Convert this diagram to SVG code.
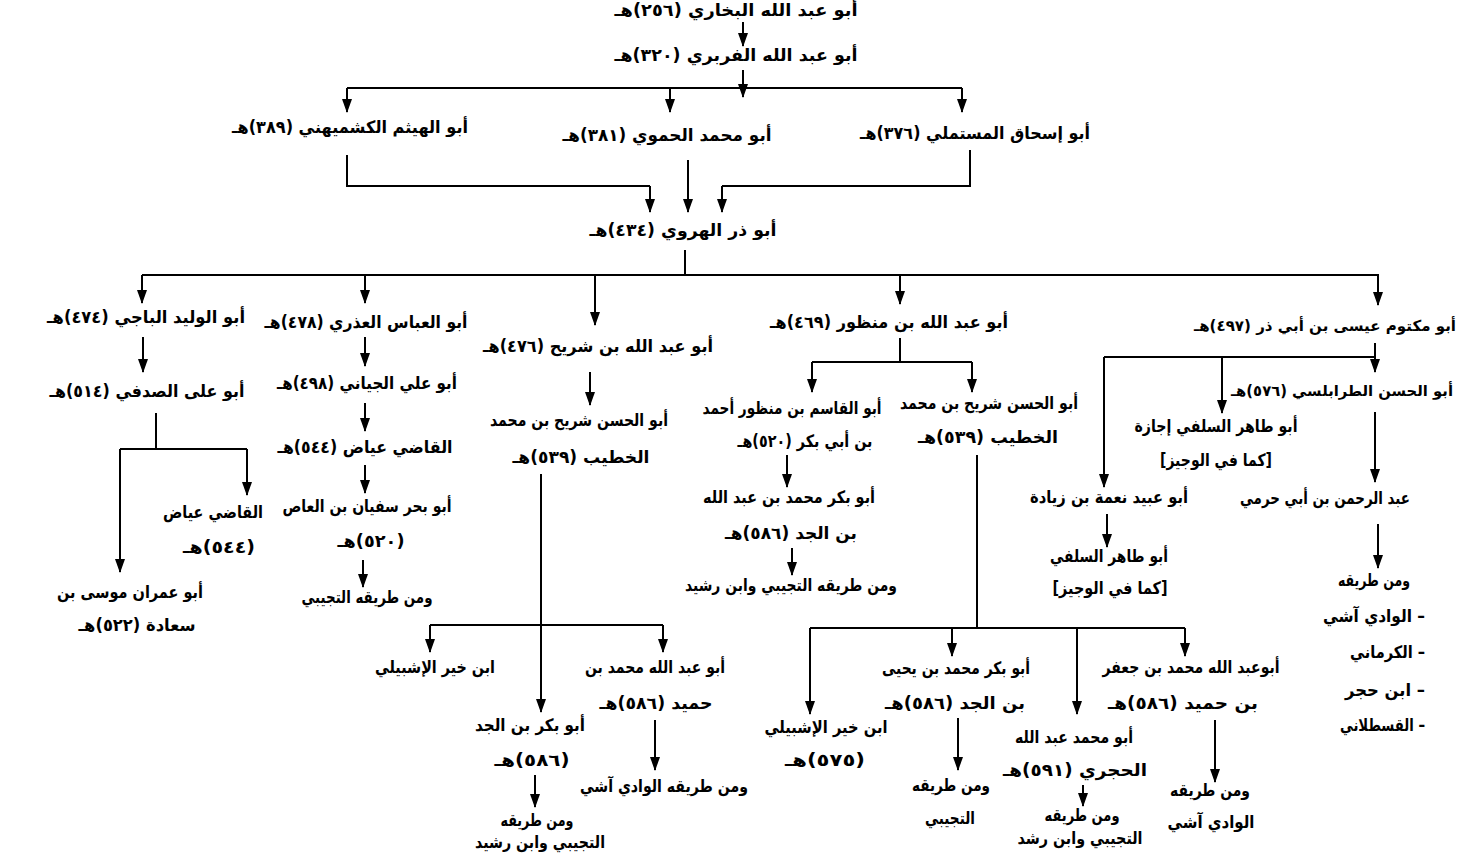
<svg xmlns="http://www.w3.org/2000/svg" width="1473" height="859" viewBox="0 0 1473 859">
<style>
.t{font-family:"DejaVu Sans",sans-serif;font-size:17px;font-weight:bold;fill:#000;direction:rtl;unicode-bidi:embed;text-anchor:middle}
.s{font-size:15px}
.r{text-anchor:start}
.c{stroke:#000;stroke-width:2;fill:none}
.a{marker-end:url(#ah)}
</style>
<defs>
<marker id="ah" markerUnits="userSpaceOnUse" markerWidth="14" markerHeight="10" refX="13" refY="5" orient="auto" viewBox="0 0 14 10">
<path d="M0,0 L14,5 L0,10 z" fill="#000"/>
</marker>
</defs>
<rect width="1473" height="859" fill="#fff"/>
<g id="connectors">
<line class="c a" x1="743" y1="22" x2="743" y2="46"/>
<line class="c a" x1="743" y1="70" x2="743" y2="97"/>
<line class="c" x1="347" y1="88" x2="962" y2="88"/>
<line class="c a" x1="347" y1="88" x2="347" y2="112"/>
<line class="c a" x1="670" y1="88" x2="670" y2="112"/>
<line class="c a" x1="962" y1="88" x2="962" y2="112"/>
<polyline class="c" points="347,155 347,186 650,186"/>
<line class="c a" x1="650" y1="186" x2="650" y2="212"/>
<line class="c a" x1="688" y1="160" x2="688" y2="212"/>
<polyline class="c" points="970,150 970,186 722,186"/>
<line class="c a" x1="722" y1="186" x2="722" y2="212"/>
<line class="c" x1="685" y1="250" x2="685" y2="275"/>
<line class="c" x1="142" y1="275" x2="1379" y2="275"/>
<line class="c a" x1="142" y1="275" x2="142" y2="303"/>
<line class="c a" x1="365" y1="275" x2="365" y2="303"/>
<line class="c a" x1="595" y1="275" x2="595" y2="325"/>
<line class="c a" x1="900" y1="275" x2="900" y2="304"/>
<line class="c a" x1="1378" y1="275" x2="1378" y2="305"/>
<line class="c a" x1="143" y1="337" x2="143" y2="372"/>
<line class="c" x1="156" y1="413" x2="156" y2="449"/>
<line class="c" x1="120" y1="449" x2="247" y2="449"/>
<line class="c a" x1="247" y1="449" x2="247" y2="495"/>
<line class="c a" x1="120" y1="449" x2="120" y2="572"/>
<line class="c a" x1="365" y1="337" x2="365" y2="366"/>
<line class="c a" x1="365" y1="403" x2="365" y2="431"/>
<line class="c a" x1="365" y1="465" x2="365" y2="493"/>
<line class="c a" x1="363" y1="560" x2="363" y2="587"/>
<line class="c a" x1="590" y1="372" x2="590" y2="405"/>
<line class="c a" x1="541" y1="474" x2="541" y2="712"/>
<line class="c" x1="430" y1="625" x2="663" y2="625"/>
<line class="c a" x1="430" y1="625" x2="430" y2="652"/>
<line class="c a" x1="663" y1="625" x2="663" y2="652"/>
<line class="c a" x1="535" y1="775" x2="535" y2="807"/>
<line class="c a" x1="655" y1="720" x2="655" y2="770"/>
<line class="c" x1="900" y1="338" x2="900" y2="362"/>
<line class="c" x1="812" y1="362" x2="972" y2="362"/>
<line class="c a" x1="812" y1="362" x2="812" y2="392"/>
<line class="c a" x1="972" y1="362" x2="972" y2="392"/>
<line class="c a" x1="787" y1="455" x2="787" y2="487"/>
<line class="c a" x1="792" y1="548" x2="792" y2="575"/>
<line class="c" x1="977" y1="455" x2="977" y2="628"/>
<line class="c" x1="810" y1="628" x2="1185" y2="628"/>
<line class="c a" x1="810" y1="628" x2="810" y2="714"/>
<line class="c a" x1="952" y1="628" x2="952" y2="656"/>
<line class="c a" x1="1077" y1="628" x2="1077" y2="714"/>
<line class="c a" x1="1185" y1="628" x2="1185" y2="656"/>
<line class="c a" x1="958" y1="718" x2="958" y2="770"/>
<line class="c a" x1="1083" y1="785" x2="1083" y2="806"/>
<line class="c a" x1="1215" y1="720" x2="1215" y2="782"/>
<line class="c" x1="1104" y1="357" x2="1375" y2="357"/>
<line class="c a" x1="1375" y1="343" x2="1375" y2="372"/>
<line class="c a" x1="1222" y1="357" x2="1222" y2="413"/>
<line class="c a" x1="1104" y1="357" x2="1104" y2="487"/>
<line class="c a" x1="1375" y1="412" x2="1375" y2="482"/>
<line class="c a" x1="1107" y1="514" x2="1107" y2="547"/>
<line class="c a" x1="1378" y1="524" x2="1378" y2="568"/>
</g>
<g id="n-bukhari"><text class="t" x="736" y="16" textLength="243" lengthAdjust="spacingAndGlyphs">أبو عبد الله البخاري (٢٥٦)هـ</text></g>
<g id="n-firabri"><text class="t" x="736" y="61" textLength="243" lengthAdjust="spacingAndGlyphs">أبو عبد الله الفربري (٣٢٠)هـ</text></g>
<g id="n-kushmihani"><text class="t" x="350" y="133" textLength="236" lengthAdjust="spacingAndGlyphs">أبو الهيثم الكشميهني (٣٨٩)هـ</text></g>
<g id="n-hamawi"><text class="t" x="667" y="141" textLength="209" lengthAdjust="spacingAndGlyphs">أبو محمد الحموي (٣٨١)هـ</text></g>
<g id="n-mustamli"><text class="t" x="975" y="139" textLength="230" lengthAdjust="spacingAndGlyphs">أبو إسحاق المستملي (٣٧٦)هـ</text></g>
<g id="n-harawi"><text class="t" x="683" y="236" textLength="187" lengthAdjust="spacingAndGlyphs">أبو ذر الهروي (٤٣٤)هـ</text></g>
<g id="n-baji"><text class="t" x="146" y="323" textLength="198" lengthAdjust="spacingAndGlyphs">أبو الوليد الباجي (٤٧٤)هـ</text></g>
<g id="n-udhri"><text class="t" x="366" y="328" textLength="203" lengthAdjust="spacingAndGlyphs">أبو العباس العذري (٤٧٨)هـ</text></g>
<g id="n-shurayh"><text class="t" x="598" y="352" textLength="230" lengthAdjust="spacingAndGlyphs">أبو عبد الله بن شريح (٤٧٦)هـ</text></g>
<g id="n-manzur"><text class="t" x="889" y="328" textLength="238" lengthAdjust="spacingAndGlyphs">أبو عبد الله بن منظور (٤٦٩)هـ</text></g>
<g id="n-maktum"><text class="t s" x="1325" y="331" textLength="262" lengthAdjust="spacingAndGlyphs">أبو مكتوم عيسى بن أبي ذر (٤٩٧)هـ</text></g>
<g id="n-sadafi"><text class="t" x="147" y="397" textLength="195" lengthAdjust="spacingAndGlyphs">أبو على الصدفي (٥١٤)هـ</text></g>
<g id="n-iyad1"><text class="t" x="213" y="518" textLength="100" lengthAdjust="spacingAndGlyphs">القاضي عياض</text><text class="t" x="219" y="553" textLength="72" lengthAdjust="spacingAndGlyphs">(٥٤٤)هـ</text></g>
<g id="n-imran"><text class="t" x="130" y="598" textLength="146" lengthAdjust="spacingAndGlyphs">أبو عمران موسى بن</text><text class="t" x="137" y="631" textLength="117" lengthAdjust="spacingAndGlyphs">سعادة (٥٢٢)هـ</text></g>
<g id="n-jayyani"><text class="t" x="367" y="389" textLength="180" lengthAdjust="spacingAndGlyphs">أبو علي الجياني (٤٩٨)هـ</text></g>
<g id="n-iyad2"><text class="t" x="365" y="453" textLength="175" lengthAdjust="spacingAndGlyphs">القاضي عياض (٥٤٤)هـ</text></g>
<g id="n-sufyan"><text class="t" x="367" y="512" textLength="169" lengthAdjust="spacingAndGlyphs">أبو بحر سفيان بن العاص</text><text class="t" x="371" y="547" textLength="67" lengthAdjust="spacingAndGlyphs">(٥٢٠)هـ</text></g>
<g id="n-tujibi1"><text class="t" x="367" y="603" textLength="131" lengthAdjust="spacingAndGlyphs">ومن طريقه التجيبي</text></g>
<g id="n-khatib1"><text class="t" x="579" y="426" textLength="178" lengthAdjust="spacingAndGlyphs">أبو الحسن شريح بن محمد</text><text class="t" x="581" y="463" textLength="137" lengthAdjust="spacingAndGlyphs">الخطيب (٥٣٩)هـ</text></g>
<g id="n-khayr1"><text class="t" x="435" y="673" textLength="120" lengthAdjust="spacingAndGlyphs">ابن خير الإشبيلي</text></g>
<g id="n-humayd1"><text class="t" x="655" y="673" textLength="140" lengthAdjust="spacingAndGlyphs">أبو عبد الله محمد بن</text><text class="t" x="656" y="709" textLength="113" lengthAdjust="spacingAndGlyphs">حميد (٥٨٦)هـ</text></g>
<g id="n-jadd1"><text class="t" x="530" y="731" textLength="110" lengthAdjust="spacingAndGlyphs">أبو بكر بن الجد</text><text class="t" x="532" y="766" textLength="75" lengthAdjust="spacingAndGlyphs">(٥٨٦)هـ</text></g>
<g id="n-tariq1"><text class="t" x="537" y="826" textLength="73" lengthAdjust="spacingAndGlyphs">ومن طريقه</text><text class="t" x="540" y="848" textLength="130" lengthAdjust="spacingAndGlyphs">التجيبي وابن رشيد</text></g>
<g id="n-wadi1"><text class="t" x="664" y="792" textLength="168" lengthAdjust="spacingAndGlyphs">ومن طريقه الوادي آشي</text></g>
<g id="n-qasim"><text class="t" x="792" y="414" textLength="179" lengthAdjust="spacingAndGlyphs">أبو القاسم بن منظور أحمد</text><text class="t" x="805" y="447" textLength="135" lengthAdjust="spacingAndGlyphs">بن أبي بكر (٥٢٠)هـ</text></g>
<g id="n-jadd2"><text class="t" x="789" y="503" textLength="172" lengthAdjust="spacingAndGlyphs">أبو بكر محمد بن عبد الله</text><text class="t" x="791" y="539" textLength="132" lengthAdjust="spacingAndGlyphs">بن الجد (٥٨٦)هـ</text></g>
<g id="n-tariq2"><text class="t" x="791" y="591" textLength="212" lengthAdjust="spacingAndGlyphs">ومن طريقه التجيبي وابن رشيد</text></g>
<g id="n-khatib2"><text class="t" x="989" y="409" textLength="178" lengthAdjust="spacingAndGlyphs">أبو الحسن شريح بن محمد</text><text class="t" x="988" y="443" textLength="140" lengthAdjust="spacingAndGlyphs">الخطيب (٥٣٩)هـ</text></g>
<g id="n-khayr2"><text class="t" x="826" y="733" textLength="123" lengthAdjust="spacingAndGlyphs">ابن خير الإشبيلي</text><text class="t" x="825" y="766" textLength="80" lengthAdjust="spacingAndGlyphs">(٥٧٥)هـ</text></g>
<g id="n-jadd3"><text class="t" x="956" y="674" textLength="148" lengthAdjust="spacingAndGlyphs">أبو بكر محمد بن يحيى</text><text class="t" x="955" y="709" textLength="140" lengthAdjust="spacingAndGlyphs">بن الجد (٥٨٦)هـ</text></g>
<g id="n-tariq3"><text class="t" x="951" y="791" textLength="78" lengthAdjust="spacingAndGlyphs">ومن طريقه</text><text class="t" x="950" y="824" textLength="50" lengthAdjust="spacingAndGlyphs">التجيبي</text></g>
<g id="n-hajari"><text class="t" x="1074" y="743" textLength="118" lengthAdjust="spacingAndGlyphs">أبو محمد عبد الله</text><text class="t" x="1075" y="776" textLength="144" lengthAdjust="spacingAndGlyphs">الحجري (٥٩١)هـ</text></g>
<g id="n-tariq4"><text class="t" x="1082" y="821" textLength="75" lengthAdjust="spacingAndGlyphs">ومن طريقه</text><text class="t" x="1080" y="844" textLength="125" lengthAdjust="spacingAndGlyphs">التجيبي وابن رشد</text></g>
<g id="n-humayd2"><text class="t" x="1191" y="673" textLength="177" lengthAdjust="spacingAndGlyphs">أبوعبد الله محمد بن جعفر</text><text class="t" x="1183" y="709" textLength="150" lengthAdjust="spacingAndGlyphs">بن حميد (٥٨٦)هـ</text></g>
<g id="n-tariq5"><text class="t" x="1210" y="796" textLength="80" lengthAdjust="spacingAndGlyphs">ومن طريقه</text><text class="t" x="1211" y="828" textLength="87" lengthAdjust="spacingAndGlyphs">الوادي آشي</text></g>
<g id="n-tarabulusi"><text class="t s" x="1342" y="396" textLength="222" lengthAdjust="spacingAndGlyphs">أبو الحسن الطرابلسي (٥٧٦)هـ</text></g>
<g id="n-silafi1"><text class="t" x="1216" y="432" textLength="163" lengthAdjust="spacingAndGlyphs">أبو طاهر السلفي إجازة</text><text class="t" x="1216" y="466" textLength="112" lengthAdjust="spacingAndGlyphs">[كما في الوجيز]</text></g>
<g id="n-ziyada"><text class="t" x="1109" y="503" textLength="158" lengthAdjust="spacingAndGlyphs">أبو عبيد نعمة بن زيادة</text></g>
<g id="n-silafi2"><text class="t" x="1109" y="562" textLength="118" lengthAdjust="spacingAndGlyphs">أبو طاهر السلفي</text><text class="t" x="1110" y="594" textLength="115" lengthAdjust="spacingAndGlyphs">[كما في الوجيز]</text></g>
<g id="n-harami"><text class="t" x="1325" y="504" textLength="170" lengthAdjust="spacingAndGlyphs">عبد الرحمن بن أبي حرمي</text></g>
<g id="n-tariq6"><text class="t" x="1374" y="586" textLength="72" lengthAdjust="spacingAndGlyphs">ومن طريقه</text>
<text class="t r" x="1425" y="622" textLength="102" lengthAdjust="spacingAndGlyphs">– الوادي آشي</text>
<text class="t r" x="1425" y="658" textLength="75" lengthAdjust="spacingAndGlyphs">– الكرماني</text>
<text class="t r" x="1425" y="696" textLength="80" lengthAdjust="spacingAndGlyphs">– ابن حجر</text>
<text class="t r" x="1425" y="731" textLength="85" lengthAdjust="spacingAndGlyphs">– القسطلاني</text></g>
</svg>
